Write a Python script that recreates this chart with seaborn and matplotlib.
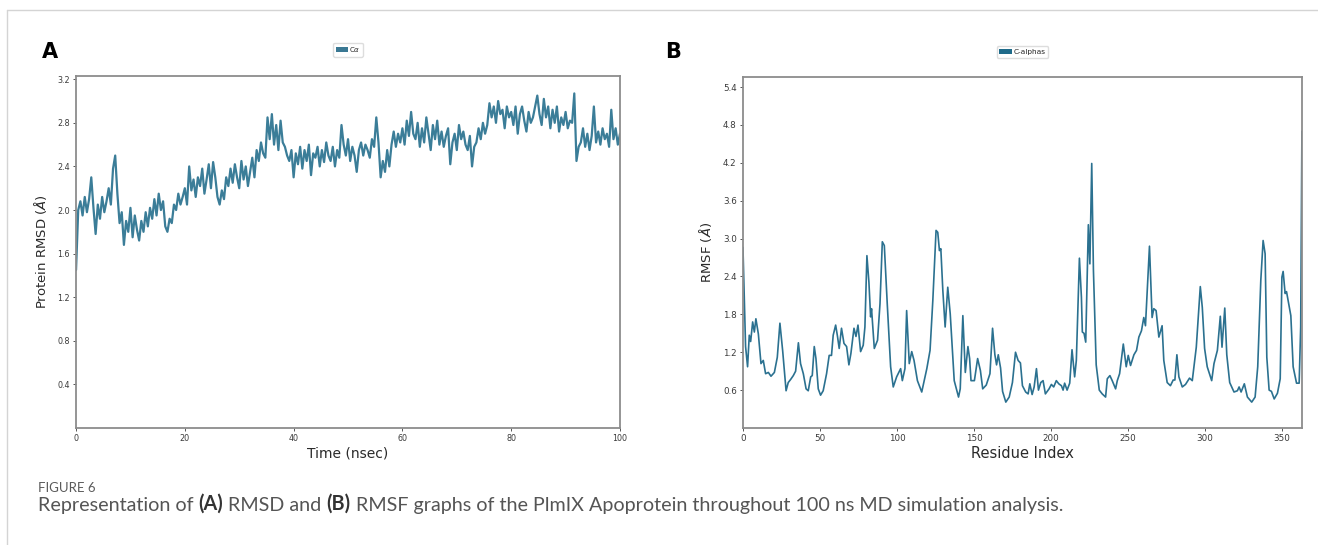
import numpy as np
import pandas as pd
import matplotlib
matplotlib.use('Agg')
import matplotlib.pyplot as plt
from matplotlib.patches import Patch
import seaborn as sns

# RMSD of C-alpha atoms, one value every 0.4 ns (0 - 100 ns)
RMSD_STEP_NS = 0.4
rmsd_values = [
    1.45, 2.00, 2.08, 1.95, 2.12, 1.98, 2.10, 2.30, 2.02, 1.78,
    2.05, 1.92, 2.12, 1.98, 2.08, 2.20, 2.05, 2.38, 2.50, 2.15,
    1.88, 1.98, 1.68, 1.90, 1.80, 2.02, 1.75, 1.95, 1.82, 1.72,
    1.90, 1.80, 1.98, 1.85, 2.02, 1.92, 2.10, 1.95, 2.15, 2.00,
    2.08, 1.85, 1.80, 1.92, 1.88, 2.05, 2.00, 2.15, 2.05, 2.12,
    2.20, 2.05, 2.40, 2.18, 2.28, 2.12, 2.30, 2.22, 2.38, 2.15,
    2.28, 2.42, 2.20, 2.44, 2.30, 2.12, 2.05, 2.18, 2.10, 2.30,
    2.22, 2.38, 2.25, 2.42, 2.30, 2.20, 2.45, 2.28, 2.40, 2.22,
    2.35, 2.48, 2.30, 2.55, 2.45, 2.62, 2.52, 2.48, 2.85, 2.65,
    2.88, 2.60, 2.78, 2.55, 2.82, 2.62, 2.58, 2.50, 2.45, 2.55,
    2.30, 2.52, 2.42, 2.58, 2.38, 2.55, 2.45, 2.60, 2.32, 2.52,
    2.48, 2.58, 2.40, 2.55, 2.44, 2.62, 2.50, 2.45, 2.58, 2.40,
    2.55, 2.48, 2.78, 2.60, 2.50, 2.65, 2.45, 2.58, 2.50, 2.35,
    2.55, 2.62, 2.50, 2.60, 2.55, 2.48, 2.65, 2.58, 2.85, 2.62,
    2.30, 2.45, 2.35, 2.55, 2.40, 2.60, 2.72, 2.58, 2.70, 2.62,
    2.75, 2.60, 2.82, 2.68, 2.90, 2.70, 2.65, 2.80, 2.58, 2.75,
    2.62, 2.85, 2.70, 2.55, 2.78, 2.65, 2.82, 2.60, 2.72, 2.58,
    2.68, 2.75, 2.42, 2.62, 2.70, 2.55, 2.78, 2.65, 2.72, 2.60,
    2.55, 2.68, 2.40, 2.58, 2.62, 2.75, 2.65, 2.80, 2.70, 2.78,
    2.98, 2.85, 2.95, 2.80, 3.00, 2.88, 2.92, 2.75, 2.95, 2.85,
    2.90, 2.78, 2.95, 2.70, 2.88, 2.95, 2.82, 2.72, 2.90, 2.80,
    2.85, 2.95, 3.05, 2.88, 2.78, 3.02, 2.85, 2.95, 2.75, 2.92,
    2.80, 2.95, 2.72, 2.85, 2.78, 2.90, 2.75, 2.82, 2.80, 3.07,
    2.45, 2.58, 2.62, 2.75, 2.58, 2.70, 2.55, 2.68, 2.95, 2.62,
    2.72, 2.60, 2.75, 2.65, 2.70, 2.58, 2.92, 2.65, 2.75, 2.60, 2.70,
]
rmsd_xticks = [0, 20, 40, 60, 80, 100]
rmsd_yticks = [0.4, 0.8, 1.2, 1.6, 2.0, 2.4, 2.8, 3.2]

# RMSF per residue (read at the turning points of the trace)
residue_index = [
    0, 1.7, 3.0, 4.1, 5.0, 6.3, 7.4, 8.4, 10.0, 11.7, 13.2, 14.7, 16.5, 18.2, 20.4,
    22.3, 24.0, 25.8, 28.0, 29.4, 31.0, 32.7, 34.2, 36.0, 37.4, 39.2, 41.0, 42.4,
    44.0, 45.0, 46.3, 47.4, 48.9, 50.4, 52.1, 54.3, 56.0, 57.5, 58.6, 60.2, 61.4,
    62.5, 64.0, 65.6, 67.3, 68.8, 70.1, 72.1, 73.4, 74.7, 76.4, 78.1, 79.2, 80.5,
    81.8, 82.9, 83.5, 85.3, 87.4, 89.0, 90.5, 91.8, 93.7, 95.9, 97.6, 99.8, 102.4,
    103.5, 105.2, 106.3, 108.0, 109.6, 111.1, 113.3, 116.1, 119.4, 121.5, 123.3,
    125.4, 126.5, 127.6, 128.5, 129.8, 131.3, 133.0, 134.6, 137.2, 140.0, 141.1,
    142.8, 144.4, 146.1, 147.2, 148.1, 150.3, 152.4, 154.2, 155.7, 158.0, 160.4,
    162.1, 163.6, 164.7, 165.8, 167.3, 168.6, 170.7, 172.9, 175.0, 177.0, 178.7,
    180.2, 181.5, 183.6, 185.2, 186.3, 187.8, 189.1, 190.6, 191.9, 193.4, 194.9,
    196.4, 198.8, 200.3, 201.8, 203.5, 205.1, 206.8, 207.9, 208.9, 210.5, 212.2,
    213.7, 215.4, 216.5, 218.5, 219.8, 220.4, 221.5, 222.6, 224.3, 225.3, 226.5,
    227.6, 229.4, 231.4, 233.3, 235.5, 236.6, 238.3, 239.8, 242.0, 243.1, 244.6,
    247.0, 248.9, 250.2, 251.7, 253.9, 255.6, 257.1, 258.8, 260.3, 261.4, 264.0,
    265.7, 266.8, 268.3, 270.1, 272.2, 273.3, 275.5, 277.6, 279.4, 280.5, 281.8,
    283.1, 285.3, 287.4, 290.0, 291.8, 294.4, 297.0, 298.3, 299.8, 301.5, 304.4,
    305.9, 308.1, 310.0, 311.1, 312.9, 314.2, 316.1, 318.9, 321.1, 322.2, 323.5,
    325.6, 327.6, 330.4, 332.6, 334.3, 336.3, 337.8, 339.1, 340.2, 341.7, 343.2,
    345.0, 347.1, 348.9, 350.0, 350.8, 352.1, 353.0, 355.8, 357.3, 359.5, 361.2,
    362.2, 363.0,
]
rmsf_values = [
    2.86, 1.29, 0.97, 1.47, 1.37, 1.68, 1.52, 1.73, 1.49, 1.02, 1.07, 0.86, 0.88, 0.82, 0.88,
    1.12, 1.66, 1.22, 0.59, 0.72, 0.77, 0.83, 0.90, 1.35, 1.02, 0.86, 0.62, 0.59,
    0.81, 0.83, 1.29, 1.10, 0.62, 0.52, 0.59, 0.86, 1.15, 1.15, 1.47, 1.63, 1.45,
    1.26, 1.58, 1.34, 1.29, 1.00, 1.18, 1.58, 1.45, 1.63, 1.21, 1.31, 1.60, 2.73,
    2.31, 1.76, 1.89, 1.26, 1.39, 1.97, 2.95, 2.89, 1.97, 0.97, 0.65, 0.81, 0.94,
    0.75, 0.94, 1.86, 1.02, 1.21, 1.07, 0.75, 0.57, 0.94, 1.23, 2.02,
    3.13, 3.10, 2.81, 2.84, 2.18, 1.60, 2.23, 1.81, 0.75, 0.49, 0.62,
    1.78, 0.88, 1.29, 1.10, 0.75, 0.75, 1.10, 0.91, 0.62, 0.68, 0.86,
    1.58, 1.16, 1.00, 1.16, 0.95, 0.58, 0.41, 0.49, 0.72, 1.20, 1.07,
    1.03, 0.67, 0.57, 0.54, 0.70, 0.53, 0.65, 0.94, 0.60, 0.72, 0.75,
    0.54, 0.62, 0.69, 0.65, 0.75, 0.70, 0.67, 0.60, 0.71, 0.60, 0.71,
    1.24, 0.81, 1.07, 2.69, 2.07, 1.52, 1.50, 1.36, 3.22, 2.60, 4.19,
    2.50, 1.00, 0.60, 0.54, 0.49, 0.78, 0.83, 0.75, 0.62, 0.75, 0.86,
    1.33, 0.97, 1.15, 0.99, 1.16, 1.23, 1.44, 1.54, 1.75, 1.62, 2.88,
    1.75, 1.89, 1.86, 1.44, 1.62, 1.07, 0.72, 0.67, 0.76, 0.76, 1.16,
    0.81, 0.65, 0.69, 0.79, 0.75, 1.28, 2.24, 1.91, 1.26, 0.97, 0.75,
    1.02, 1.23, 1.77, 1.28, 1.90, 1.16, 0.72, 0.57, 0.59, 0.65, 0.57,
    0.70, 0.49, 0.41, 0.49, 0.97, 2.34, 2.97, 2.76, 1.12, 0.60, 0.58,
    0.46, 0.55, 0.78, 2.39, 2.48, 2.13, 2.16, 1.78, 0.97, 0.71, 0.71,
    1.60, 4.70,
]
rmsf_xticks = [0, 50, 100, 150, 200, 250, 300, 350]
rmsf_yticks = [0.6, 1.2, 1.8, 2.4, 3.0, 3.6, 4.2, 4.8, 5.4]

caption_title = 'FIGURE 6'
caption_parts = [
    ('Representation of ', 'normal'),
    ('(A)', 'bold'),
    (' RMSD and ', 'normal'),
    ('(B)', 'bold'),
    (' RMSF graphs of the PlmIX Apoprotein throughout 100 ns MD simulation analysis.', 'normal'),
]

RMSD_COLOR = '#3b7d98'
RMSF_COLOR = '#2b7190'
CAPTION_FONT = 'Lato'
CAPTION_SIZE = 14.2

sns.set_style('white')
plt.rcParams['font.family'] = ['DejaVu Sans']

rmsd_df = pd.DataFrame({
    'time': np.arange(len(rmsd_values)) * RMSD_STEP_NS,
    'rmsd': rmsd_values,
})
rmsf_df = pd.DataFrame({'residue': residue_index, 'rmsf': rmsf_values})


def style_axes(ax, tick_size):
    for spine in ax.spines.values():
        spine.set_visible(True)
        spine.set_color('#8c8c8c')
        spine.set_linewidth(1.3)
    ax.tick_params(axis='both', direction='out', length=2.5, width=0.7,
                   color='#555555', labelcolor='#3a3a3a', labelsize=tick_size,
                   bottom=True, left=True, pad=2)


def add_legend(ax, label, color, size):
    ax.legend(handles=[Patch(facecolor=color, edgecolor='none')], labels=[label],
              loc='lower center', bbox_to_anchor=(0.5, 1.045), fontsize=size,
              handlelength=1.7, handleheight=0.65, handletextpad=0.2, borderpad=0.35,
              frameon=True, edgecolor='#dddddd', framealpha=1)


fig = plt.figure(figsize=(13.18, 5.45), dpi=100)

# frame lines of the figure box
fig.add_artist(plt.Line2D([0.0055, 0.0055], [0.0, 0.982], color='#d4d4d4', lw=1.0))
fig.add_artist(plt.Line2D([0.0055, 1.0], [0.982, 0.982], color='#d4d4d4', lw=1.0))

# panel A: RMSD
ax_a = fig.add_axes([0.0577, 0.2147, 0.4127, 0.6459])
sns.lineplot(data=rmsd_df, x='time', y='rmsd', ax=ax_a, color=RMSD_COLOR,
             linewidth=1.6, estimator=None, sort=False)
ax_a.set_xlim(0, 100)
ax_a.set_ylim(0, 3.23)
ax_a.set_xticks(rmsd_xticks)
ax_a.set_yticks(rmsd_yticks)
ax_a.set_yticklabels([f'{v:.1f}' for v in rmsd_yticks])
ax_a.set_xlabel('Time (nsec)', fontsize=10, color='#2a2a2a', labelpad=2)
ax_a.set_ylabel(r'Protein RMSD ($\AA$)', fontsize=9.5, color='#2a2a2a', labelpad=6)
style_axes(ax_a, 5.8)
add_legend(ax_a, r'C$\alpha$', '#3a7893', 5.0)

# panel B: RMSF
ax_b = fig.add_axes([0.5637, 0.2147, 0.4241, 0.644])
sns.lineplot(data=rmsf_df, x='residue', y='rmsf', ax=ax_b, color=RMSF_COLOR,
             linewidth=1.2, estimator=None, sort=False)
ax_b.set_xlim(0, 363)
ax_b.set_ylim(0, 5.56)
ax_b.set_xticks(rmsf_xticks)
ax_b.set_yticks(rmsf_yticks)
ax_b.set_yticklabels([f'{v:.1f}' for v in rmsf_yticks])
ax_b.set_xlabel('Residue Index', fontsize=10.5, color='#2a2a2a', labelpad=2)
ax_b.set_ylabel(r'RMSF ($\AA$)', fontsize=9.5, color='#2a2a2a', labelpad=6)
style_axes(ax_b, 6.3)
add_legend(ax_b, 'C-alphas', '#1f6b8a', 5.3)

# panel letters
fig.text(0.032, 0.905, 'A', fontsize=15, fontweight='bold', color='black', va='center')
fig.text(0.505, 0.905, 'B', fontsize=15, fontweight='bold', color='black', va='center')

# caption: title line, then the sentence with bold panel references chained piece by piece
fig.text(0.0288, 0.105, caption_title, fontsize=9.5, color='#5a5a5a',
         family=CAPTION_FONT, va='center')
anchor = fig.text(0.0288, 0.073, caption_parts[0][0], fontsize=CAPTION_SIZE, color='#555555',
                  family=CAPTION_FONT, va='center', fontweight=caption_parts[0][1])
for text, weight in caption_parts[1:]:
    color = '#333333' if weight == 'bold' else '#555555'
    anchor = ax_a.annotate(text, xy=(1, 0), xycoords=anchor, va='bottom', ha='left',
                           fontsize=CAPTION_SIZE, color=color, family=CAPTION_FONT,
                           fontweight=weight, annotation_clip=False)

fig.savefig('out.png', dpi=100)
